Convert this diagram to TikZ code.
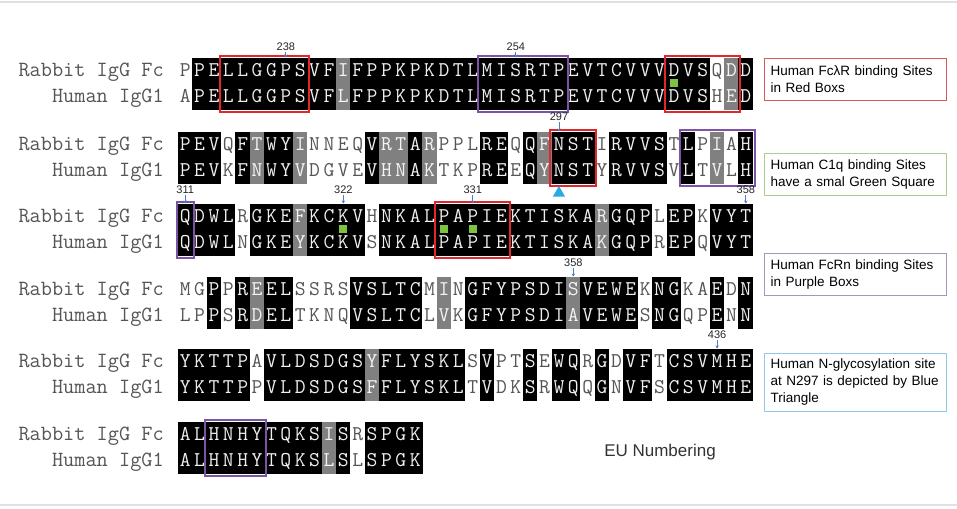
\documentclass[tikz,border=0pt]{standalone}
\usepackage{fontspec}
\usetikzlibrary{arrows.meta,shapes.geometric}
\newfontfamily\sansf{Liberation Sans}
\definecolor{shk}{HTML}{000000}
\definecolor{shg}{HTML}{808080}
\definecolor{shw}{HTML}{FFFFFF}
\definecolor{txk}{HTML}{F0F0F0}
\definecolor{txg}{HTML}{F4F4F4}
\definecolor{txw}{HTML}{555555}
\definecolor{boxred}{HTML}{E3262B}
\definecolor{boxpur}{HTML}{7A54A6}
\definecolor{legred}{HTML}{D9575A}
\definecolor{leggreen}{HTML}{A9CF8E}
\definecolor{legpur}{HTML}{A396BF}
\definecolor{legblue}{HTML}{8FCBE8}
\definecolor{sqgreen}{HTML}{7DC242}
\definecolor{triblue}{HTML}{29ABE2}
\definecolor{arrblue}{HTML}{4A7EC2}
\tikzset{
  res/.style={font=\ttfamily\fontsize{21}{21}\selectfont, inner sep=0pt, anchor=base},
  lab/.style={font=\ttfamily\fontsize{21.7}{21.7}\selectfont, inner sep=0pt, anchor=base east, text=txw},
  redbox/.style={draw=boxred, line width=2pt},
  purbox/.style={draw=boxpur, line width=2pt},
  gsq/.style={fill=sqgreen, minimum size=8pt, inner sep=0pt, draw=none},
  tri/.style={regular polygon, regular polygon sides=3, minimum size=14pt, inner sep=0pt, fill=triblue},
  num/.style={font=\sansf\fontsize{11}{11}\selectfont, text=black!85, inner sep=1pt},
  numarr/.style={draw=arrblue, line width=0.8pt, -{Stealth[length=3pt,width=3.5pt]}},
  leg/.style={anchor=north west, font=\sansf\fontsize{13.5}{17}\selectfont, align=left,
    text width=170pt, inner xsep=6pt, line width=1pt, text=black},
}
\newcommand{\seqblk}[3]{%
  \foreach \r/\h/\s [count=\i] in {#3} {
    \pgfmathsetmacro{\xl}{178+(\i-1)*14.375}
    \fill[fill=sh\s] (\xl-0.25,#2) rectangle (\xl+14.625,#2+52);
    \node[res,text=tx\s] (b#1r\i) at (\xl+7.19,#2+18.5) {\r};
    \node[res,text=tx\s] (b#1h\i) at (\xl+7.19,#2+44.5) {\h};
  }
  \node[lab] (b#1rl) at (164,#2+18.5) {Rabbit IgG Fc};
  \node[lab] (b#1hl) at (164,#2+44.5) {Human IgG1};
}
\newcommand{\hlbox}[4]{\draw[#1] ({178+(#2-1)*14.375-1.5},#4-2) rectangle ({178+#3*14.375+1.5},#4+54);}
\newcommand{\numlab}[5]{%
  \node[num] (#1) at ({178+(#2-0.5)*14.375},#3-#5) {#4};
  \coordinate (#1t) at ({178+(#2-0.5)*14.375},#3-0.5);
  \draw[numarr] (#1.south) -- (#1t);
}
\newcommand{\gmark}[3]{\node[gsq] (#1) at ({178+(#2-0.5)*14.375},#3+25) {};}
\begin{document}
\begin{tikzpicture}[x=1pt,y=-1pt]
\useasboundingbox (0,0) rectangle (957,508);
\fill[white] (0,0) rectangle (957,508);
\draw[black!12, line width=1.5pt] (0,2) -- (957,2);
\draw[black!12, line width=1.5pt] (0,505) -- (957,505);

\seqblk{1}{58}{P/A/w,P/P/k,E/E/k,L/L/k,L/L/k,G/G/k,G/G/k,P/P/k,S/S/k,V/V/k,F/F/k,I/L/g,F/F/k,P/P/k,P/P/k,K/K/k,P/P/k,K/K/k,D/D/k,T/T/k,L/L/k,M/M/k,I/I/k,S/S/k,R/R/k,T/T/k,P/P/k,E/E/k,V/V/k,T/T/k,C/C/k,V/V/k,V/V/k,V/V/k,D/D/k,V/V/k,S/S/k,Q/H/w,D/E/g,D/D/k}
\seqblk{2}{132}{P/P/k,E/E/k,V/V/k,Q/K/w,F/F/k,T/N/g,W/W/k,Y/Y/k,I/V/g,N/D/w,N/G/w,E/V/w,Q/E/w,V/V/k,R/H/g,T/N/g,A/A/k,R/K/g,P/T/w,P/K/w,L/P/w,R/R/k,E/E/k,Q/E/w,Q/Q/k,F/Y/g,N/N/k,S/S/k,T/T/k,I/Y/w,R/R/k,V/V/k,V/V/k,S/S/k,T/V/w,L/L/k,P/T/w,I/V/g,A/L/w,H/H/k}
\seqblk{3}{204}{Q/Q/k,D/D/k,W/W/k,L/L/k,R/N/w,G/G/k,K/K/k,E/E/k,F/Y/g,K/K/k,C/C/k,K/K/k,V/V/k,H/S/w,N/N/k,K/K/k,A/A/k,L/L/k,P/P/k,A/A/k,P/P/k,I/I/k,E/E/k,K/K/k,T/T/k,I/I/k,S/S/k,K/K/k,A/A/k,R/K/g,G/G/k,Q/Q/k,P/P/k,L/R/w,E/E/k,P/P/k,K/Q/w,V/V/k,Y/Y/k,T/T/k}
\seqblk{4}{277}{M/L/w,G/P/w,P/P/k,P/S/w,R/R/k,E/D/g,E/E/k,L/L/k,S/T/w,S/K/w,R/N/w,S/Q/w,V/V/k,S/S/k,L/L/k,T/T/k,C/C/k,M/L/w,I/V/g,N/K/w,G/G/k,F/F/k,Y/Y/k,P/P/k,S/S/k,D/D/k,I/I/k,S/A/g,V/V/k,E/E/k,W/W/k,E/E/k,K/S/w,N/N/k,G/G/k,K/Q/w,A/P/w,E/E/k,D/N/w,N/N/k}
\seqblk{5}{349}{Y/Y/k,K/K/k,T/T/k,T/T/k,P/P/k,A/P/w,V/V/k,L/L/k,D/D/k,S/S/k,D/D/k,G/G/k,S/S/k,Y/F/g,F/F/k,L/L/k,Y/Y/k,S/S/k,K/K/k,L/L/k,S/T/w,V/V/k,P/D/w,T/K/w,S/S/k,E/R/w,W/W/k,Q/Q/k,R/Q/w,G/G/k,D/N/w,V/V/k,F/F/k,T/S/w,C/C/k,S/S/k,V/V/k,M/M/k,H/H/k,E/E/k}
\seqblk{6}{422}{A/A/k,L/L/k,H/H/k,N/N/k,H/H/k,Y/Y/k,T/T/k,Q/Q/k,K/K/k,S/S/k,I/L/g,S/S/k,R/L/w,S/S/k,P/P/k,G/G/k,K/K/k}

% highlight boxes
\hlbox{redbox}{4}{9}{58}
\hlbox{redbox}{35}{39}{58}
\hlbox{redbox}{27}{29}{132}
\hlbox{redbox}{19}{23}{204}
\hlbox{purbox}{22}{27}{58}
\hlbox{purbox}{36}{40}{132}
\hlbox{purbox}{1}{1}{204}
\hlbox{purbox}{3}{6}{422}

% green squares
\gmark{g1}{35}{58}
\gmark{g2}{12}{204}
\gmark{g3}{19}{204}
\gmark{g4}{21}{204}

% glycosylation triangle
\node[tri] (glyc) at ({178+26.5*14.375},193) {};

% position numbers
\numlab{n238}{8}{58}{238}{11}
\numlab{n254}{24}{58}{254}{11}
\numlab{n297}{27}{132}{297}{15}
\numlab{n311}{1}{204}{311}{14}
\numlab{n322}{12}{204}{322}{14}
\numlab{n331}{21}{204}{331}{14}
\numlab{n358a}{40}{204}{358}{14}
\numlab{n358b}{28}{277}{358}{14}
\numlab{n436}{38}{349}{436}{14}

% legends
\node[leg, draw=legred, minimum height=42pt] (leg1) at (764,58) {Human FcλR binding Sites\\in Red Boxs};
\node[leg, draw=leggreen, minimum height=42pt] (leg2) at (764,153) {Human C1q binding Sites\\have a smal Green Square};
\node[leg, draw=legpur, minimum height=42pt] (leg3) at (764,253) {Human FcRn binding Sites\\in Purple Boxs};
\node[leg, draw=legblue, minimum height=58pt] (leg4) at (764,353) {Human N-glycosylation site\\at N297 is depicted by Blue\\Triangle};

\node[font=\sansf\fontsize{17}{17}\selectfont, text=black!80] (eu) at (660,452) {EU Numbering};
\end{tikzpicture}
\end{document}
